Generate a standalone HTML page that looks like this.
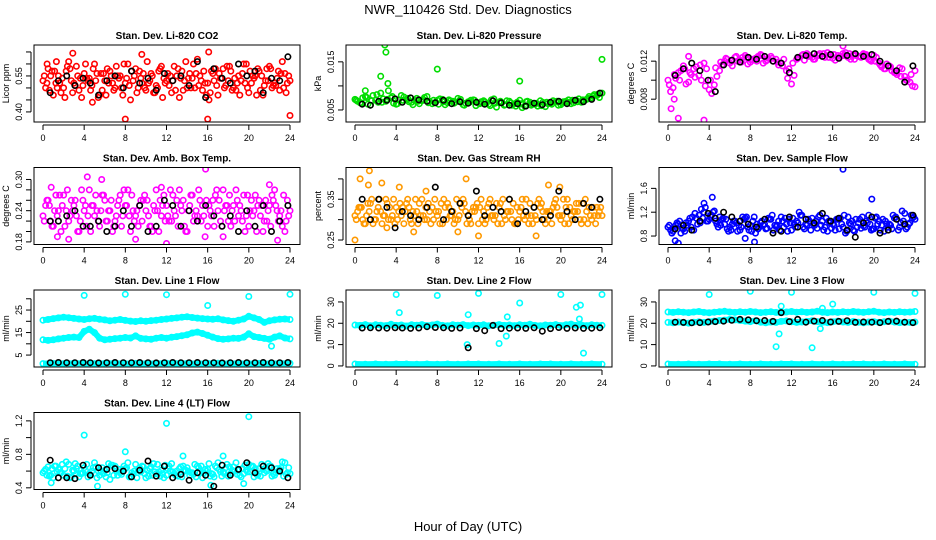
<!DOCTYPE html>
<html><head><meta charset="utf-8">
<style>
html,body{margin:0;padding:0;background:#fff;}
svg{display:block;font-family:"Liberation Sans",sans-serif;}
</style></head>
<body>
<svg id="chart" width="936" height="540" viewBox="0 0 936 540">
<text x="468" y="14" text-anchor="middle" font-size="13">NWR_110426  Std. Dev. Diagnostics</text>
<text x="468" y="531" text-anchor="middle" font-size="13">Hour of Day (UTC)</text>
</svg>
<script>
// ---- data ----
const xTicks = [0,4,8,12,16,20,24];
const blackHours = [0.7,1.5,2.3,3.1,3.9,4.6,5.4,6.2,7.0,7.8,8.6,9.4,10.2,11.0,11.8,12.6,13.4,14.2,15.0,15.8,16.6,17.4,18.2,19.0,19.8,20.6,21.4,22.2,23.0,23.8];

const co2A = [0.53,0.58,0.47,0.55,0.50,0.61,0.52,0.49,0.56,0.54,0.60,0.47,0.53,0.57,0.50,0.55,0.52,0.45,0.58,0.54,0.49,0.56,0.51,0.59,0.53,0.48,0.55,0.57,0.50,0.54,0.62,0.49,0.52,0.56,0.47,0.58,0.53,0.50,0.55,0.60,0.48,0.54,0.57,0.51,0.59,0.52,0.49,0.56,0.53];
const co2B = [0.50,0.55,0.52,0.48,0.57,0.53,0.59,0.46,0.54,0.51,0.56,0.49,0.58,0.52,0.55,0.47,0.60,0.53,0.50,0.56,0.52,0.48,0.57,0.54,0.51,0.59,0.46,0.53,0.56,0.50,0.55,0.52,0.48,0.58,0.54,0.51,0.57,0.49,0.53,0.60,0.52,0.47,0.55,0.58,0.50,0.54,0.61,0.52];
const co2C = [0.55,0.49,0.57,0.52,0.46,0.58,0.51,0.54,0.60,0.49,0.53,0.56,0.47,0.55,0.59,0.50,0.54,0.57,0.48,0.52,0.61,0.55,0.50,0.46,0.56,0.53,0.58,0.49,0.54,0.60,0.51,0.57,0.45,0.53,0.56,0.50,0.59,0.54,0.47,0.52,0.57,0.55,0.49,0.53,0.58,0.51,0.56,0.48];
const co2D = [0.52,0.57,0.50,0.54,0.59,0.48,0.55,0.51,0.53,0.58,0.46,0.56,0.52,0.49,0.54,0.60,0.51,0.55,0.57,0.50,0.53,0.48,0.58,0.52,0.55,0.49,0.54,0.61,0.50,0.56,0.53,0.47,0.57,0.51,0.54,0.59,0.49,0.52,0.56,0.50,0.55,0.58,0.47,0.53,0.51,0.57,0.50,0.55];
const co2OutX = [8,16,24,16.1,9.6,2.9,4.8,0.4,1.3];
const co2OutY = [0.37,0.37,0.385,0.65,0.64,0.645,0.44,0.60,0.61];
const co2Black = [0.48,0.53,0.55,0.51,0.54,0.52,0.47,0.53,0.55,0.50,0.57,0.52,0.54,0.49,0.56,0.53,0.55,0.51,0.61,0.46,0.58,0.54,0.52,0.60,0.55,0.57,0.48,0.54,0.53,0.63];

const presA = [0.0072,0.0065,0.0078,0.0060,0.0070,0.0085,0.0068,0.0075,0.0062,0.0080,0.0071,0.0066,0.0074,0.0069,0.0078,0.0063,0.0070,0.0072,0.0065,0.0068,0.0074,0.0061,0.0067,0.0071,0.0064,0.0069,0.0062,0.0073,0.0066,0.0060,0.0068,0.0063,0.0070,0.0058,0.0066,0.0062,0.0069,0.0057,0.0064,0.0067,0.0061,0.0068,0.0063,0.0070,0.0066,0.0072,0.0075,0.0080,0.0085];
const presB = [0.0068,0.0075,0.0062,0.0080,0.0066,0.0073,0.0090,0.0064,0.0071,0.0077,0.0067,0.0070,0.0063,0.0076,0.0068,0.0065,0.0073,0.0061,0.0069,0.0066,0.0072,0.0064,0.0070,0.0059,0.0067,0.0063,0.0071,0.0056,0.0065,0.0069,0.0060,0.0066,0.0055,0.0068,0.0062,0.0058,0.0066,0.0063,0.0069,0.0060,0.0067,0.0071,0.0065,0.0073,0.0070,0.0078,0.0082,0.0076];
const presC = [0.0070,0.0064,0.0076,0.0069,0.0082,0.0066,0.0072,0.0078,0.0063,0.0070,0.0074,0.0061,0.0068,0.0072,0.0065,0.0070,0.0062,0.0067,0.0071,0.0064,0.0069,0.0060,0.0066,0.0070,0.0063,0.0067,0.0059,0.0064,0.0068,0.0061,0.0065,0.0058,0.0063,0.0067,0.0060,0.0064,0.0059,0.0066,0.0062,0.0068,0.0064,0.0066,0.0070,0.0067,0.0071,0.0074,0.0079,0.0083];
const presOutX = [2.9,3.0,2.5,8,16,24,3.2,1.0];
const presOutY = [0.0185,0.017,0.012,0.0135,0.011,0.0155,0.0105,0.0090];
const presBlack = [0.0062,0.0060,0.0068,0.0070,0.0073,0.0066,0.0075,0.0071,0.0068,0.0065,0.0070,0.0063,0.0067,0.0064,0.0066,0.0062,0.0069,0.0065,0.0060,0.0063,0.0058,0.0064,0.0061,0.0066,0.0068,0.0063,0.0070,0.0067,0.0072,0.0085];

const tempA = [0.0100,0.0092,0.0108,0.0115,0.0098,0.0112,0.0105,0.0118,0.0090,0.0095,0.0110,0.0120,0.0118,0.0124,0.0121,0.0126,0.0119,0.0123,0.0127,0.0120,0.0125,0.0122,0.0118,0.0110,0.0096,0.0122,0.0126,0.0128,0.0124,0.0127,0.0125,0.0129,0.0123,0.0126,0.0128,0.0124,0.0127,0.0125,0.0128,0.0122,0.0126,0.0118,0.0112,0.0115,0.0108,0.0113,0.0104,0.0098,0.0110];
const tempB = [0.0088,0.0102,0.0110,0.0096,0.0106,0.0114,0.0100,0.0112,0.0086,0.0104,0.0116,0.0122,0.0115,0.0120,0.0124,0.0117,0.0121,0.0125,0.0118,0.0123,0.0120,0.0116,0.0122,0.0112,0.0105,0.0124,0.0121,0.0126,0.0122,0.0128,0.0124,0.0127,0.0121,0.0125,0.0129,0.0122,0.0126,0.0124,0.0127,0.0120,0.0124,0.0114,0.0117,0.0110,0.0106,0.0112,0.0100,0.0094];
const tempC = [0.0095,0.0106,0.0100,0.0112,0.0108,0.0103,0.0116,0.0094,0.0100,0.0113,0.0119,0.0123,0.0120,0.0125,0.0119,0.0124,0.0122,0.0120,0.0126,0.0121,0.0123,0.0119,0.0115,0.0102,0.0118,0.0123,0.0127,0.0125,0.0122,0.0126,0.0128,0.0124,0.0127,0.0123,0.0126,0.0128,0.0122,0.0125,0.0127,0.0121,0.0120,0.0116,0.0112,0.0114,0.0108,0.0104,0.0100,0.0106];
const tempOutX = [0.3,1.0,3.5,17,24,0.6,2.0];
const tempOutY = [0.0070,0.0060,0.0058,0.0136,0.0093,0.0080,0.0125];
const tempBlack = [0.0105,0.0112,0.0118,0.0110,0.0100,0.0088,0.0116,0.0121,0.0119,0.0124,0.0122,0.0125,0.0120,0.0118,0.0108,0.0124,0.0126,0.0128,0.0125,0.0127,0.0123,0.0126,0.0128,0.0125,0.0127,0.0120,0.0115,0.0110,0.0098,0.0115];

const ambA = [0.23,0.26,0.21,0.24,0.27,0.22,0.25,0.20,0.24,0.28,0.23,0.21,0.26,0.24,0.22,0.27,0.25,0.20,0.23,0.26,0.24,0.21,0.28,0.23,0.25,0.22,0.26,0.24,0.20,0.27,0.23,0.25,0.21,0.26,0.24,0.28,0.22,0.25,0.23,0.27,0.21,0.24,0.26,0.22,0.25,0.28,0.23,0.20,0.24];
const ambB = [0.25,0.22,0.27,0.20,0.24,0.26,0.23,0.28,0.21,0.25,0.24,0.27,0.22,0.20,0.25,0.23,0.28,0.24,0.21,0.26,0.23,0.25,0.20,0.27,0.22,0.24,0.28,0.21,0.25,0.23,0.26,0.19,0.24,0.27,0.22,0.25,0.21,0.28,0.24,0.23,0.26,0.20,0.25,0.22,0.27,0.24,0.21,0.26];
const ambC = [0.22,0.25,0.24,0.27,0.21,0.23,0.26,0.22,0.25,0.20,0.27,0.24,0.22,0.26,0.23,0.21,0.25,0.27,0.24,0.22,0.26,0.20,0.24,0.25,0.23,0.27,0.21,0.26,0.24,0.22,0.28,0.23,0.25,0.21,0.26,0.24,0.27,0.22,0.25,0.20,0.24,0.27,0.23,0.26,0.21,0.25,0.24,0.22];
const ambD = [0.26,0.21,0.23,0.25,0.28,0.24,0.20,0.26,0.23,0.25,0.22,0.27,0.24,0.21,0.26,0.28,0.23,0.22,0.25,0.27,0.21,0.24,0.26,0.22,0.28,0.23,0.25,0.20,0.27,0.24,0.22,0.26,0.23,0.28,0.21,0.25,0.24,0.26,0.22,0.27,0.23,0.25,0.20,0.24,0.26,0.22,0.27,0.23];
const ambOutX = [0.8,4.3,15.8,12,2.5,17.5,11.5,22,1.4,9.0,22.8,5.7];
const ambOutY = [0.285,0.305,0.32,0.177,0.185,0.19,0.285,0.29,0.19,0.185,0.183,0.30];
const ambBlack = [0.22,0.22,0.23,0.24,0.21,0.21,0.22,0.20,0.21,0.24,0.21,0.25,0.20,0.21,0.26,0.25,0.21,0.24,0.22,0.25,0.23,0.21,0.23,0.20,0.24,0.21,0.25,0.20,0.22,0.25];

const rhA = [0.31,0.33,0.29,0.34,0.30,0.32,0.35,0.30,0.33,0.31,0.34,0.29,0.32,0.35,0.30,0.33,0.31,0.29,0.34,0.32,0.30,0.35,0.31,0.33,0.29,0.32,0.34,0.30,0.33,0.31,0.35,0.29,0.32,0.30,0.34,0.31,0.33,0.29,0.32,0.35,0.30,0.33,0.31,0.34,0.29,0.32,0.30,0.33,0.31];
const rhB = [0.32,0.30,0.34,0.29,0.33,0.31,0.30,0.35,0.32,0.29,0.33,0.31,0.34,0.30,0.32,0.35,0.29,0.33,0.31,0.30,0.34,0.32,0.29,0.33,0.35,0.30,0.31,0.34,0.29,0.32,0.30,0.33,0.35,0.31,0.29,0.34,0.32,0.30,0.33,0.31,0.35,0.29,0.32,0.34,0.30,0.33,0.31,0.32];
const rhC = [0.30,0.33,0.31,0.35,0.32,0.29,0.34,0.31,0.30,0.33,0.35,0.32,0.29,0.31,0.34,0.30,0.32,0.35,0.33,0.29,0.31,0.34,0.30,0.32,0.33,0.29,0.35,0.31,0.34,0.30,0.32,0.29,0.33,0.35,0.31,0.30,0.34,0.32,0.29,0.33,0.31,0.35,0.30,0.32,0.34,0.29,0.33,0.31];
const rhD = [0.33,0.29,0.32,0.30,0.35,0.31,0.33,0.29,0.34,0.32,0.30,0.35,0.31,0.33,0.29,0.32,0.34,0.30,0.31,0.35,0.33,0.29,0.32,0.34,0.30,0.33,0.31,0.29,0.35,0.32,0.34,0.30,0.31,0.29,0.33,0.35,0.30,0.32,0.34,0.31,0.29,0.33,0.32,0.30,0.35,0.31,0.29,0.33];
const rhOutX = [0,0.5,1.4,1.3,2.6,4.3,6.9,10.8,12,18.8,19.9,17.6,3.1,5.7,10];
const rhOutY = [0.25,0.40,0.42,0.385,0.39,0.38,0.37,0.40,0.26,0.385,0.38,0.26,0.28,0.27,0.27];
const rhBlack = [0.35,0.30,0.35,0.33,0.28,0.32,0.31,0.30,0.33,0.38,0.30,0.32,0.34,0.31,0.37,0.31,0.33,0.32,0.35,0.29,0.32,0.33,0.30,0.31,0.37,0.32,0.30,0.34,0.33,0.35];

const flowA = [0.95,0.88,1.00,0.92,1.05,0.90,1.15,1.20,1.08,1.22,1.12,1.00,0.95,1.05,0.90,1.10,0.98,0.85,1.02,0.92,1.08,0.96,1.12,1.00,0.90,1.05,1.15,0.98,1.10,0.93,1.05,0.88,1.00,1.08,0.95,1.12,0.90,1.02,0.97,1.15,0.92,1.05,0.88,1.00,1.10,0.95,1.18,1.02,1.08];
const flowB = [0.90,0.98,0.85,1.02,0.95,1.10,1.25,1.05,1.15,1.00,1.08,0.92,1.00,0.88,1.12,0.95,1.05,0.92,0.98,1.10,0.90,1.05,0.95,1.08,1.00,1.20,0.92,1.05,0.98,1.15,0.95,1.02,0.90,1.10,0.85,1.00,1.08,0.93,1.05,0.90,1.12,0.98,1.00,0.92,1.08,1.22,0.95,1.10];
const flowC = [0.98,0.92,1.05,0.88,1.10,1.18,1.02,1.28,1.15,1.05,0.98,1.08,0.90,1.02,0.95,1.12,0.88,1.00,1.05,0.93,1.15,0.98,1.05,0.88,1.10,1.02,0.95,1.08,1.00,1.12,0.90,1.05,0.98,0.92,1.15,1.02,0.88,1.08,0.95,1.00,1.10,0.90,1.05,0.98,1.12,1.02,0.92,1.15];
const flowD = [0.85,1.02,0.93,0.98,1.12,1.00,1.10,1.05,1.20,0.95,1.10,0.88,1.05,0.98,1.08,0.90,1.12,0.95,1.00,1.08,0.98,0.90,1.10,1.02,0.95,1.15,1.00,0.90,1.05,0.98,1.10,0.93,1.08,1.00,0.88,1.05,0.95,1.12,1.02,0.92,1.00,1.08,0.95,1.15,0.90,1.05,1.00,1.12];
const flowOutX = [0.7,1.0,4.3,8.4,17,19.8,3.5,7.5];
const flowOutY = [0.72,0.68,1.45,0.70,1.92,1.42,1.35,0.76];
const flowBlack = [0.92,0.98,0.90,1.05,1.18,1.10,1.20,1.12,1.05,1.00,0.95,1.08,0.85,0.88,1.12,0.95,1.08,1.02,1.18,1.05,1.10,0.90,0.78,1.02,1.12,0.85,0.90,1.08,1.00,1.15];

const l1High = [20.5,20.8,21.2,21.5,21.8,21.6,21.3,21.0,20.8,21.1,21.3,20.9,20.6,20.2,20.5,20.8,20.4,20.1,19.9,20.2,20.0,20.3,20.5,20.8,21.0,21.3,21.5,21.8,22.0,21.7,21.4,21.2,21.0,20.9,21.1,20.6,20.3,20.0,20.5,21.0,22.2,21.5,20.8,19.5,20.2,20.6,20.9,21.0,20.8];
const l1Low = [11.8,11.5,11.8,12.2,12.5,12.8,13.0,12.8,15.5,16.5,15.0,12.5,11.8,12.0,12.3,12.5,12.8,12.6,13.5,12.4,12.2,12.0,12.5,12.8,12.5,12.9,13.2,13.6,14.0,14.8,15.2,14.6,13.8,13.0,12.3,12.0,12.2,12.5,12.4,13.0,14.5,13.2,12.8,12.4,12.0,13.0,13.5,12.6,12.2];
const l1Base = [1.2,1.3,1.2,1.4,1.3,1.2,1.3,1.4,1.2,1.3,1.2,1.3,1.4,1.2,1.3,1.2,1.3,1.4,1.2,1.3,1.2,1.3,1.2,1.4,1.3];
const l1OutX = [4,8,12,16,20,24,22.2];
const l1OutY = [31.5,32,31.8,27,31,32,9];
const l1Black = [1.6,1.7,1.6,1.6,1.7,1.6,1.5,1.6,1.7,1.6,1.6,1.7,1.6,1.5,1.6,1.7,1.6,1.6,1.7,1.6,1.6,1.5,1.6,1.7,1.6,1.6,1.7,1.6,1.6,1.7];

const l2Band = [19.2,19.0,19.4,18.8,19.3,19.1,18.9,19.5,19.0,19.2,18.7,19.3,19.1,19.4,18.9,19.2,19.6,19.0,18.8,19.3,19.1,19.4,18.9,19.2,19.0,19.3,18.8,19.1,19.4,19.0,19.2,18.9,19.3,19.1,19.5,19.0,18.8,19.2,19.1,19.4,18.9,19.3,19.6,19.0,19.2,18.9,19.3,19.1,19.0];
const l2Base = [0.9,0.8,0.9,0.8,0.9,0.9,0.8,0.9,0.8,0.9,0.8,0.9,0.9,0.8,0.9,0.8,0.9,0.8,0.9,0.9,0.8,0.9,0.8,0.9,0.8];
const l2OutX = [4,4.3,8,10.9,11,12,14,14.7,14.8,16,20,21.5,21.8,21.9,22.2,24];
const l2OutY = [33.5,25,33,10,24,34,10.5,14,23,29.5,33.5,27.5,22,28.5,6,33.5];
const l2Black = [17.8,17.9,17.8,17.7,17.9,17.8,17.6,17.8,18.4,18.0,17.9,17.6,17.8,8.5,17.5,16.5,19.0,17.5,17.7,17.8,17.6,17.9,16.3,17.5,18.0,17.6,17.8,17.6,17.7,17.9];
const l3Top = [25.3,25.1,25.4,25.2,25.0,25.3,25.5,25.1,24.9,25.2,25.4,25.6,25.3,25.1,25.4,25.2,25.5,25.3,25.0,25.2,25.4,25.1,24.9,25.3,25.5,25.2,25.4,25.1,25.3,25.6,25.2,25.0,25.3,25.1,25.4,25.2,25.5,25.3,25.1,25.4,25.6,25.2,25.0,25.3,25.1,25.4,25.2,25.3,25.5];
const l3Mid = [20.4,20.2,20.6,20.3,20.1,20.5,20.7,20.4,20.8,21.0,21.3,21.5,21.8,21.6,21.3,21.0,20.8,21.2,20.5,20.2,20.6,20.4,20.9,21.1,20.7,20.4,20.6,20.9,21.2,20.8,20.5,20.3,20.7,21.0,20.6,20.4,20.9,20.5,20.2,20.6,20.8,20.4,20.7,21.0,20.6,20.3,20.5,20.4,20.6];
const l3Base = [0.9,0.8,0.9,0.8,0.9,0.9,0.8,0.9,0.8,0.9,0.8,0.9,0.9,0.8,0.9,0.8,0.9,0.8,0.9,0.9,0.8,0.9,0.8,0.9,0.8];
const l3OutX = [4,8,10.8,11,12,14,14.8,15,16,20,24,10.5];
const l3OutY = [33.5,35,15,28,34.5,8.5,17.5,27,29,34.5,34,9];
const l3Black = [20.5,20.4,20.2,20.3,20.6,20.8,21.0,21.4,21.8,21.6,21.2,21.3,20.9,25,20.8,21.8,20.5,21.0,21.3,20.6,20.9,21.2,20.4,20.6,20.5,20.3,20.9,21.0,20.5,20.3];

const l4A = [0.58,0.65,0.52,0.62,0.55,0.68,0.60,0.53,0.64,0.57,0.70,0.55,0.61,0.50,0.66,0.58,0.63,0.54,0.68,0.59,0.52,0.65,0.57,0.61,0.55,0.69,0.60,0.53,0.64,0.58,0.66,0.52,0.62,0.56,0.70,0.59,0.54,0.65,0.61,0.57,0.68,0.53,0.63,0.58,0.66,0.55,0.62,0.70,0.57];
const l4B = [0.62,0.55,0.66,0.58,0.71,0.53,0.63,0.57,0.68,0.60,0.52,0.64,0.58,0.67,0.55,0.62,0.70,0.56,0.61,0.65,0.54,0.69,0.59,0.52,0.66,0.57,0.63,0.60,0.55,0.68,0.58,0.62,0.54,0.66,0.59,0.64,0.57,0.70,0.53,0.61,0.65,0.56,0.68,0.60,0.54,0.63,0.71,0.58];
const l4C = [0.60,0.54,0.66,0.58,0.63,0.52,0.69,0.57,0.61,0.55,0.65,0.59,0.53,0.67,0.60,0.56,0.64,0.58,0.52,0.66,0.61,0.55,0.68,0.57,0.63,0.59,0.54,0.66,0.60,0.56,0.64,0.58,0.69,0.53,0.62,0.57,0.65,0.60,0.55,0.67,0.59,0.63,0.54,0.61,0.66,0.58,0.64,0.56];
const l4D = [0.55,0.63,0.59,0.68,0.54,0.61,0.66,0.58,0.53,0.64,0.60,0.57,0.69,0.55,0.62,0.66,0.53,0.60,0.64,0.57,0.63,0.59,0.54,0.67,0.60,0.55,0.65,0.61,0.58,0.53,0.66,0.60,0.57,0.64,0.54,0.68,0.61,0.56,0.63,0.59,0.66,0.55,0.62,0.69,0.57,0.60,0.54,0.64];
const l4OutX = [4,12,20,8,5.3,16.3,0.8,19.5,13.6,17.5];
const l4OutY = [1.03,1.17,1.25,0.83,0.42,0.43,0.46,0.45,0.78,0.78];
const l4Black = [0.73,0.52,0.52,0.51,0.67,0.55,0.64,0.62,0.63,0.60,0.53,0.61,0.72,0.54,0.66,0.52,0.56,0.49,0.58,0.55,0.42,0.67,0.55,0.62,0.70,0.58,0.66,0.64,0.60,0.52];

// ---- layout ----
const NS = "http://www.w3.org/2000/svg";
const svg = document.getElementById('chart');
const colX0 = [43,355,668];
const rowBottom = [122,244.5,367,489.5];
const SPAN = 247, BOXH = 77;

function mk(tag, attrs, parent){
  const e = document.createElementNS(NS, tag);
  for (const k in attrs) e.setAttribute(k, attrs[k]);
  (parent||svg).appendChild(e);
  return e;
}

function panel(p){
  const g = mk('g', {});
  
  
  const x0 = colX0[p.col], yb = rowBottom[p.row], yt = yb - BOXH;
  const left = x0 - 9, right = x0 + SPAN + 10;
  const sx = h => x0 + h / 24 * SPAN;
  const sy = v => yb - (v - p.ymin) / (p.ymax - p.ymin) * BOXH;
  const clip = 'clip-' + p.name;
  const cp = mk('clipPath', {id: clip}, g);
  mk('rect', {x: left, y: yt, width: right-left, height: BOXH}, cp);
  const plot = mk('g', {'clip-path': 'url(#' + clip + ')'}, g);
  
  

  function ring(h, v, color, nm){
    const c = mk('circle', {cx: sx(h).toFixed(1), cy: sy(v).toFixed(1), r: 2.7, fill: 'none', stroke: color, 'stroke-width': 1.6}, plot);
    
    
  }
  function band(arr, step, color, nm){
    const pts = arr.map((v,i)=> sx(i*step).toFixed(1)+','+sy(v).toFixed(1)).join(' ');
    const pl = mk('polyline', {points: pts, fill: 'none', stroke: color, 'stroke-width': 6, 'stroke-linejoin': 'round'}, plot);
    
    
    arr.forEach((v,i)=> ring(i*step, v, color, nm + '-point'));
  }
  (p.bands||[]).forEach(b => band(b.data, b.step, p.color, p.name + '-band'));
  (p.series||[]).forEach(s => s.data.forEach((v,i)=> ring(i*0.5 + s.off, v, p.color, p.name + '-point')));
  if (p.outX) p.outX.forEach((h,i)=> ring(h, p.outY[i], p.color, p.name + '-outlier'));
  p.black.forEach((v,i)=> ring(blackHours[i], v, '#000', p.name + '-mean-point'));

  const box = mk('rect', {x: left, y: yt, width: right-left, height: BOXH, fill: 'none', stroke: '#000', 'stroke-width': 1}, g);
  
  

  const t = mk('text', {x: (left+right)/2, y: yt - 6, 'text-anchor': 'middle', 'font-size': 10, 'font-weight': 'bold'}, g);
  t.textContent = p.title;
  
  

  const xa = mk('g', {}, g);
  
  
  mk('line', {x1: sx(0), x2: sx(24), y1: yb+3, y2: yb+3, stroke: '#000'}, xa);
  xTicks.forEach(h => {
    mk('line', {x1: sx(h), x2: sx(h), y1: yb+3, y2: yb+8, stroke: '#000'}, xa);
    const tl = mk('text', {x: sx(h), y: yb+19, 'text-anchor': 'middle', 'font-size': 9}, xa);
    tl.textContent = h;
    
    
  });
  const ya = mk('g', {}, g);
  
  
  const ax = left - 3;
  mk('line', {x1: ax, x2: ax, y1: sy(p.ticks[0]), y2: sy(p.ticks[p.ticks.length-1]), stroke: '#000'}, ya);
  p.ticks.forEach(v => mk('line', {x1: ax-5, x2: ax, y1: sy(v), y2: sy(v), stroke: '#000'}, ya));
  p.labels.forEach(v => {
    const yy = sy(v);
    const tl = mk('text', {x: 0, y: 0, 'text-anchor': 'middle', 'font-size': 9, transform: 'translate(' + (ax-9) + ',' + yy + ') rotate(-90)'}, ya);
    tl.textContent = p.fmt ? p.fmt(v) : String(v);
    
    
  });
  const yl = mk('text', {x: 0, y: 0, 'text-anchor': 'middle', 'font-size': 9, transform: 'translate(' + (left-25) + ',' + (yt+BOXH/2) + ') rotate(-90)'}, g);
  yl.textContent = p.ylab;
  
  
}

const f2 = v => v.toFixed(2), f3 = v => v.toFixed(3), f1 = v => v.toFixed(1);
panel({name:'co2', col:0,row:0,title:'Stan. Dev. Li-820 CO2',ylab:'Licor ppm',color:'#ff0000',ymin:0.358,ymax:0.679,ticks:[0.40,0.45,0.50,0.55,0.60,0.65],labels:[0.40,0.55],fmt:f2,series:[{data:co2A,off:0},{data:co2B,off:0.25},{data:co2C,off:0.125},{data:co2D,off:0.375}],outX:co2OutX,outY:co2OutY,black:co2Black});
panel({name:'pressure', col:1,row:0,title:'Stan. Dev. Li-820 Pressure',ylab:'kPa',color:'#00dd00',ymin:0.0025,ymax:0.0185,ticks:[0.005,0.010,0.015],labels:[0.005,0.015],fmt:f3,series:[{data:presA,off:0},{data:presB,off:0.25},{data:presC,off:0.125}],outX:presOutX,outY:presOutY,black:presBlack});
panel({name:'temp', col:2,row:0,title:'Stan. Dev. Li-820 Temp.',ylab:'degrees C',color:'#ff00ff',ymin:0.0056,ymax:0.0137,ticks:[0.008,0.010,0.012],labels:[0.008,0.012],fmt:f3,series:[{data:tempA,off:0},{data:tempB,off:0.25},{data:tempC,off:0.125}],outX:tempOutX,outY:tempOutY,black:tempBlack});
panel({name:'amb-box-temp', col:0,row:1,title:'Stan. Dev. Amb. Box Temp.',ylab:'degrees C',color:'#ff00ff',ymin:0.175,ymax:0.323,ticks:[0.18,0.20,0.22,0.24,0.26,0.28,0.30],labels:[0.18,0.24,0.30],fmt:f2,series:[{data:ambA,off:0},{data:ambB,off:0.25},{data:ambC,off:0.125},{data:ambD,off:0.375}],outX:ambOutX,outY:ambOutY,black:ambBlack});
panel({name:'gas-rh', col:1,row:1,title:'Stan. Dev. Gas Stream RH',ylab:'percent',color:'#ff9900',ymin:0.239,ymax:0.428,ticks:[0.25,0.30,0.35,0.40],labels:[0.25,0.35],fmt:f2,series:[{data:rhA,off:0},{data:rhB,off:0.25},{data:rhC,off:0.125},{data:rhD,off:0.375}],outX:rhOutX,outY:rhOutY,black:rhBlack});
panel({name:'sample-flow', col:2,row:1,title:'Stan. Dev. Sample Flow',ylab:'ml/min',color:'#0000ff',ymin:0.658,ymax:1.95,ticks:[0.8,1.2,1.6],labels:[0.8,1.2,1.6],fmt:f1,series:[{data:flowA,off:0},{data:flowB,off:0.25},{data:flowC,off:0.125},{data:flowD,off:0.375}],outX:flowOutX,outY:flowOutY,black:flowBlack});
panel({name:'line1-flow', col:0,row:2,title:'Stan. Dev. Line 1 Flow',ylab:'ml/min',color:'#00ffff',ymin:-0.3,ymax:33.9,ticks:[5,10,15,20,25,30],labels:[5,15,25],bands:[{data:l1High,step:0.5},{data:l1Low,step:0.5},{data:l1Base,step:1}],outX:l1OutX,outY:l1OutY,black:l1Black});
panel({name:'line2-flow', col:1,row:2,title:'Stan. Dev. Line 2 Flow',ylab:'ml/min',color:'#00ffff',ymin:-0.5,ymax:35.6,ticks:[0,10,20,30],labels:[0,10,20,30],bands:[{data:l2Band,step:0.5},{data:l2Base,step:1}],outX:l2OutX,outY:l2OutY,black:l2Black});
panel({name:'line3-flow', col:2,row:2,title:'Stan. Dev. Line 3 Flow',ylab:'ml/min',color:'#00ffff',ymin:-0.5,ymax:35.6,ticks:[0,10,20,30],labels:[0,10,20,30],bands:[{data:l3Top,step:0.5},{data:l3Mid,step:0.5},{data:l3Base,step:1}],outX:l3OutX,outY:l3OutY,black:l3Black});
panel({name:'line4-flow', col:0,row:3,title:'Stan. Dev. Line 4 (LT) Flow',ylab:'ml/min',color:'#00ffff',ymin:0.38,ymax:1.30,ticks:[0.4,0.6,0.8,1.0,1.2],labels:[0.4,0.8,1.2],fmt:f1,series:[{data:l4A,off:0},{data:l4B,off:0.25},{data:l4C,off:0.125},{data:l4D,off:0.375}],outX:l4OutX,outY:l4OutY,black:l4Black});
</script>
</body></html>
